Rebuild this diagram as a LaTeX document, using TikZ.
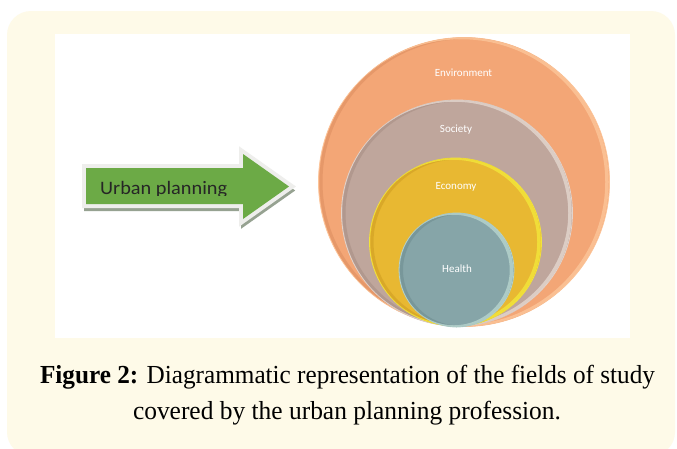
\documentclass[tikz,border=0pt]{standalone}
\usepackage{fontspec}
\setmainfont{Liberation Serif}
\newfontfamily\calib{Carlito}
\usetikzlibrary{shapes.geometric}
\definecolor{panelbg}{RGB}{254,250,232}
\definecolor{arrowgreen}{RGB}{108,170,70}
\definecolor{arrowborder}{RGB}{238,238,236}
\definecolor{arrowshadow}{RGB}{150,162,145}
\definecolor{urbtext}{RGB}{38,38,38}
\definecolor{envcol}{RGB}{243,166,118}
\definecolor{envrim}{RGB}{252,196,152}
\definecolor{envdark}{RGB}{215,135,90}
\definecolor{soccol}{RGB}{191,166,156}
\definecolor{socrim}{RGB}{226,212,204}
\definecolor{socdark}{RGB}{160,135,125}
\definecolor{ecocol}{RGB}{232,184,50}
\definecolor{ecorim}{RGB}{242,228,58}
\definecolor{ecodark}{RGB}{200,150,30}
\definecolor{heacol}{RGB}{134,165,168}
\definecolor{hearim}{RGB}{180,210,204}
\definecolor{headark}{RGB}{105,135,138}
\newcommand\mycapfont{\fontsize{26}{30}\selectfont}
\newcommand\urbfont{\calib\fontsize{19}{22}\selectfont}
\newsavebox\capboxa
\newsavebox\capboxb
\newsavebox\urbbox
\newcommand\bevelring[6]{%
  \begin{scope}
    \clip (#1,#2) ellipse [x radius=#3, y radius=#4];
    \draw[#6, line width=3pt, opacity=.45] (#1+2.5,#2) ellipse [x radius=#3, y radius=#4];
    \draw[#5, line width=3.5pt, opacity=.85] (#1-2.5,#2) ellipse [x radius=#3, y radius=#4];
  \end{scope}}
\tikzset{
  ring/.style={ellipse, inner sep=0pt, line width=0.8pt},
  lab/.style={font=\calib\fontsize{11}{13}\selectfont, text=white, inner sep=0pt},
  arrowshape/.style={insert path={(86,168) -- (243,168) -- (243,154) -- (289,186.5) -- (243,219) -- (243,204) -- (86,204) -- cycle}},
  captext/.style={anchor=base, inner sep=0pt, text=black}
}
\begin{document}
\sbox\urbbox{\urbfont Urban planning}%
\sbox\capboxa{\mycapfont\textbf{Figure 2:} Diagrammatic representation of the fields of study}%
\sbox\capboxb{\mycapfont covered by the urban planning profession.}%
\pgfmathsetmacro\urbsx{127/\wd\urbbox}%
\pgfmathsetmacro\capsxa{615/\wd\capboxa}%
\pgfmathsetmacro\capsxb{428/\wd\capboxb}%
\begin{tikzpicture}[x=1pt,y=-1pt]
\useasboundingbox (0,0) rectangle (677,448);
\fill[white] (0,0) rectangle (677,448);
\fill[panelbg, rounded corners=24pt] (7,11) rectangle (675,456);
\fill[white] (55,34) rectangle (630,338);
% arrow
\path[fill=arrowshadow, draw=arrowshadow, line width=6pt, line join=miter, shift={(1,4)}, arrowshape];
\path[fill=arrowborder, draw=arrowborder, line width=8pt, line join=miter, arrowshape];
\path[fill=arrowgreen, arrowshape];
\begin{scope}
\clip (88,170) rectangle (241,195.5);
\node[anchor=base west, inner sep=0pt, text=urbtext] (urb) at (100,194) {\scalebox{\urbsx}[1]{\urbfont Urban planning}};
\end{scope}
% circles
\node[ring, fill=envcol, draw=envrim, minimum width=291pt, minimum height=289pt] (env) at (464,182) {};
\bevelring{464}{182}{145.5}{144.5}{envrim}{envdark}
\node[ring, fill=soccol, draw=socrim, minimum width=231pt, minimum height=226pt] (soc) at (457,213) {};
\bevelring{457}{213}{115.5}{113}{socrim}{socdark}
\node[ring, fill=ecocol, draw=ecorim, minimum width=172pt, minimum height=168pt] (eco) at (455.5,242) {};
\bevelring{455.5}{242}{86}{84}{ecorim}{ecodark}
\node[ring, fill=heacol, draw=hearim, minimum width=115pt, minimum height=114pt] (hea) at (456.5,270) {};
\bevelring{456.5}{270}{57.5}{57}{hearim}{headark}
\node[lab] (envlab) at (463.5,73) {Environment};
\node[lab] (soclab) at (456,130) {Society};
\node[lab] (ecolab) at (456,187) {Economy};
\node[lab] (healab) at (457,269) {Health};
% caption
\node[captext] (cap1) at (347.5,383) {\scalebox{\capsxa}[1]{\mycapfont\textbf{Figure 2:} Diagrammatic representation of the fields of study}};
\node[captext] (cap2) at (347,419) {\scalebox{\capsxb}[1]{\mycapfont covered by the urban planning profession.}};
\end{tikzpicture}
\end{document}
